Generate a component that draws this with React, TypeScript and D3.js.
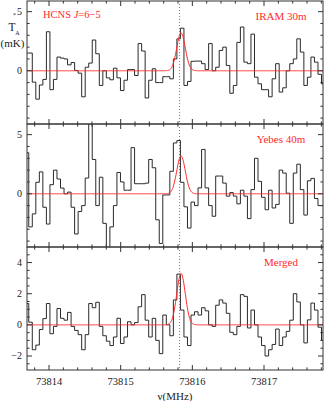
import React from 'react';
import * as d3 from 'd3';

// ---- data ----
const freqStart = 73813.693; // MHz, centre of first channel
const channelWidth = 0.04921; // MHz
const xMin = 73813.693;
const xMax = 73817.823;
const xTickLabels = [73814, 73815, 73816, 73817];

const iram = [
  1.5, 1.5, -0.96, -2.4, -1.2, -0.73, 3.3, -1.6, -0.73, 1.16,
  1.07, 1.0, 0.5, 0.7, 0.03, -0.2, -2.2, 0.3, 0.65, 2.6,
  1.44, -1.24, 0.0, -0.6, -0.76, 0.22, -0.6, -1.67, -0.8, 0.1,
  0.1, -0.4, 2.3, 1.67, -2.3, -0.8, 0.17, -1.0, -1.0, -0.5,
  -0.5, -0.68, 1.0, 2.7, 3.6, -1.24, -0.9, 0.8, 0.82, 0.82,
  0.6, 0.1, 2.3, 0.0, 0.3, 1.72, 2.0, 0.45, -1.9, -1.24,
  2.4, 3.7, 0.73, 0.6, 3.1, -0.54, -1.1, -1.6, -1.6, -2.2,
  -0.68, 0.6, -1.8, -1.44, 0.0, 0.6, 1.0, 2.7, 1.58, -1.24,
  -0.54, 1.16, 0.73, -0.3, -1.1,
];

const yebes = [
  3.47, -2.8, -1.7, 0.97, 1.85, -1.14, -2.56, 0.77, 2.0, 1.25,
  0.48, 0.0, 0.14, -1.14, -3.4, -1.5, -1.0, 1.33, 6.5, 2.9,
  -1.0, 1.4, -2.5, -5.0, -2.8, -1.0, 1.8, 1.0, 0.3, 0.3,
  3.9, 0.85, 0.85, 0.85, 0.9, 2.9, 2.2, -2.2, -4.2, -0.1,
  -0.1, 1.9, 4.3, 4.5, 0.97, -1.1, -2.9, -0.7, -1.0, 0.5,
  3.75, 0.5, -1.0, -1.9, 1.5, 1.5, 0.9, -0.2, 0.1, -0.2,
  -0.85, 0.3, -0.2, -2.1, 0.35, 3.0, 1.05, -0.3, -1.35, 0.3,
  -1.2, -0.9, 2.0, 1.75, 0.05, -2.5, 1.75, 2.5, 0.35, -1.8,
  1.1, 1.3, -0.4, -1.0, -1.0,
];

const merged = [
  1.37, 0.17, -1.6, -1.3, -0.3, 0.4, 1.37, -0.57, -0.1, 1.05,
  0.42, 0.3, 0.8, -0.1, -0.36, -0.63, -1.6, -0.63, 1.37, 1.1,
  1.45, -0.1, -0.7, -1.05, -1.33, -0.78, 0.42, -1.2, -0.78, 0.2,
  0.0, 0.15, 1.16, 1.94, 0.3, -0.78, 0.42, -1.0, -1.85, 0.63,
  0.0, -0.7, 1.6, 3.26, 0.95, -0.78, -1.33, 0.63, 0.84, 0.63,
  1.1, 0.9, 0.0, -0.1, 1.26, 1.6, 1.4, 0.74, -0.48, -0.63,
  -0.1, 1.94, 1.83, -0.2, 0.95, 0.0, -0.78, -1.33, -2.0, -1.6,
  -1.26, -0.27, -1.33, -0.78, -0.42, 0.3, 2.0, 1.47, 0.0, -1.16,
  0.32, 1.4, 0.95, -0.15, -1.0,
];

const panelNames = ['IRAM 30m', 'Yebes 40m', 'Merged'];
const fitAmplitudes = [3.2, 3.2, 3.3]; // mK
const fitCentre = 73815.842; // MHz
const fitFwhm = 0.14; // MHz
const lineFrequency = 73815.822; // MHz
const yDomains: [number, number][] = [[-4.5, 5.9], [-4.5, 5.9], [-2.9, 5.0]];
const yMajorTicks = [[5, 0, -5], [5, 0, -5], [4, 2, 0, -2]];
const yLabelTicks = [['5', '0'], ['5', '0'], ['4', '2', '0', '\u22122']];
const yMinorSteps = [1, 1, 0.5];

// ---- layout ----
const W = 324;
const H = 401;
const plotLeft = 27;
const plotRight = 323;
const panelTop0 = 1;
const panelHeight = 123;
const majorLen = 5;
const minorLen = 2.6;
const serif = "'Liberation Serif', 'DejaVu Serif', serif";
const axisColor = '#333';
const red = '#ff2a2a';

export default function App() {
  const x = d3.scaleLinear().domain([xMin, xMax]).range([plotLeft, plotRight]);
  const freqs = iram.map((_, i) => freqStart + i * channelWidth);
  const series = [iram, yebes, merged];
  const modelFreqs = d3.range(0, 601).map((i) => xMin + ((xMax - xMin) * i) / 600);
  const xMinor = d3
    .range(Math.ceil(xMin * 5), Math.floor(xMax * 5) + 1)
    .map((v) => v / 5);

  const panels = series.map((vals, p) => {
    const top = panelTop0 + p * panelHeight;
    const bottom = top + panelHeight;
    const [d0, d1] = yDomains[p];
    const y = d3.scaleLinear().domain([d0, d1]).range([bottom, top]);
    const hist = d3
      .line<number>()
      .x((_, i) => x(freqs[i]))
      .y((v) => y(v))
      .curve(d3.curveStep)(vals) as string;
    const amp = fitAmplitudes[p];
    const model = d3
      .line<number>()
      .x((f) => x(f))
      .y((f) => y(amp * Math.exp((-4 * Math.LN2 * (f - fitCentre) ** 2) / fitFwhm ** 2)))(
      modelFreqs
    ) as string;
    const step = yMinorSteps[p];
    const yTicks = d3
      .range(Math.ceil(d0 / step), Math.floor(d1 / step) + 1)
      .map((k) => k * step)
      .filter((v) => y(v) > top + 0.5 && y(v) < bottom - 0.5);
    const clipId = `clip${p}`;
    return (
      <g key={p}>
        <defs>
          <clipPath id={clipId}>
            <rect x={plotLeft} y={top} width={plotRight - plotLeft} height={panelHeight} />
          </clipPath>
        </defs>
        <g clipPath={`url(#${clipId})`}>
          <path d={hist} fill="none" stroke="#2a2a2a" strokeWidth={1} />
          <path d={model} fill="none" stroke={red} strokeWidth={1} />
        </g>
        {xMinor.map((f) => {
          const major = Math.abs(f - Math.round(f)) < 1e-6;
          const len = major ? majorLen : minorLen;
          const xx = x(f);
          return (
            <g key={`xt${f}`} stroke={axisColor} strokeWidth={1}>
              <line x1={xx} x2={xx} y1={bottom} y2={bottom - len} />
              <line x1={xx} x2={xx} y1={top} y2={top + len} />
            </g>
          );
        })}
        {yTicks.map((v) => {
          const major = yMajorTicks[p].some((m) => Math.abs(m - v) < 1e-6);
          const len = major ? majorLen : minorLen;
          const yy = y(v);
          return (
            <g key={`yt${v}`} stroke={axisColor} strokeWidth={1}>
              <line x1={plotLeft} x2={plotLeft + len} y1={yy} y2={yy} />
              <line x1={plotRight} x2={plotRight - len} y1={yy} y2={yy} />
            </g>
          );
        })}
        {yLabelTicks[p].map((lab) => {
          const v = Number(lab.replace('\u2212', '-'));
          return (
            <text
              key={`yl${lab}`}
              x={22}
              y={y(v) + 3.5}
              textAnchor="end"
              fontFamily={serif}
              fontSize={10}
              fill="#222"
            >
              {lab}
            </text>
          );
        })}
        <rect
          x={plotLeft}
          y={top}
          width={plotRight - plotLeft}
          height={panelHeight}
          fill="none"
          stroke={axisColor}
          strokeWidth={1}
        />
        <text
          x={281}
          y={top + 18.5}
          textAnchor="middle"
          fontFamily={serif}
          fontSize={11}
          fill={red}
        >
          {panelNames[p]}
        </text>
      </g>
    );
  });

  const bottomAll = panelTop0 + 3 * panelHeight;

  return (
    <svg
      width={W}
      height={H}
      style={{ position: 'absolute', left: 0, top: 0, background: '#fff' }}
    >
      <rect x={0} y={0} width={W} height={H} fill="#fff" />
      {panels}
      <line
        x1={x(lineFrequency)}
        x2={x(lineFrequency)}
        y1={panelTop0}
        y2={bottomAll}
        stroke="#6a6ae0"
        strokeWidth={1}
        strokeDasharray="1 2"
      />
      {xTickLabels.map((f) => (
        <text
          key={`xl${f}`}
          x={x(f)}
          y={385}
          textAnchor="middle"
          fontFamily={serif}
          fontSize={10.5}
          fill="#222"
        >
          {f}
        </text>
      ))}
      <text x={175} y={399.5} textAnchor="middle" fontFamily={serif} fontSize={11} fill="#222">
        {'\u03bd(MHz)'}
      </text>
      {/* y-axis title */}
      <text x={8.5} y={31} fontFamily={serif} fontSize={11.5} fill="#222">
        T
      </text>
      <text x={13} y={17} fontFamily={serif} fontSize={6} fill="#222">
        *
      </text>
      <text x={15.2} y={35} fontFamily={serif} fontSize={6} fill="#222">
        A
      </text>
      <text x={12.5} y={47} textAnchor="middle" fontFamily={serif} fontSize={11} fill="#222">
        (mK)
      </text>
      <text x={43} y={17.5} fontFamily={serif} fontSize={10.5} fill={red}>
        HCNS <tspan fontStyle="italic">J</tspan>=6{'\u2212'}5
      </text>
    </svg>
  );
}
